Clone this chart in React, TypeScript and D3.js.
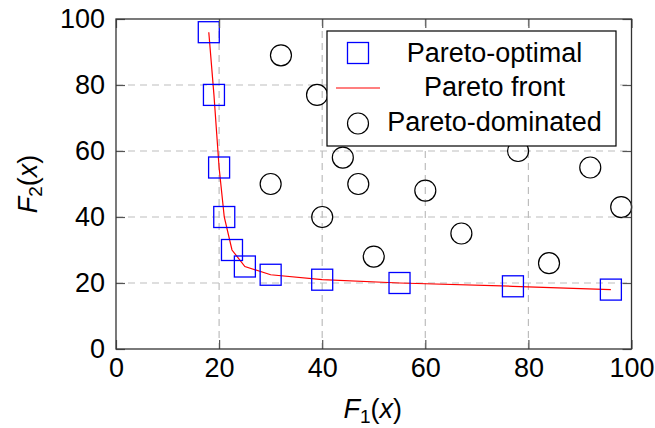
import React, { useEffect, useRef } from 'react'
import { select, scaleLinear, line, axisBottom, axisLeft, axisTop, axisRight } from 'd3'

// Pareto-optimal points (F1, F2)
const optimalF1 = [18, 19, 20, 21, 22.5, 25, 30, 40, 55, 77, 96]
const optimalF2 = [96, 77, 55, 40, 30, 25, 22.5, 21, 20, 19, 18]

// Pareto-dominated points
const dominatedF1 = [32, 39, 44, 30, 47, 40, 60, 50, 67, 78, 84, 92, 98]
const dominatedF2 = [89, 77, 58, 50, 50, 40, 48, 28, 35, 60, 26, 55, 43]

const tickValues = [0, 20, 40, 60, 80, 100]
const legendLabels = ['Pareto-optimal', 'Pareto front', 'Pareto-dominated']

function App() {
  const ref = useRef<SVGSVGElement>(null)

  useEffect(() => {
    const width = 655, height = 428
    const left = 116, right = 631.5, top = 19, bottom = 349
    const font = '"Liberation Sans", Arial, sans-serif'

    const svg = select(ref.current)
    svg.selectAll('*').remove()

    const x = scaleLinear().domain([0, 100]).range([left, right])
    const y = scaleLinear().domain([0, 100]).range([bottom, top])

    // grid
    const grid = svg.append('g')
    grid.selectAll('.gx')
      .data(tickValues.slice(1, -1))
      .enter().append('line')
      .attr('x1', d => x(d)).attr('x2', d => x(d))
      .attr('y1', top).attr('y2', bottom)
    grid.selectAll('.gy')
      .data(tickValues.slice(1, -1))
      .enter().append('line')
      .attr('x1', left).attr('x2', right)
      .attr('y1', d => y(d)).attr('y2', d => y(d))
    grid.selectAll('line')
      .attr('stroke', '#bdbdbd')
      .attr('stroke-width', 1.2)
      .attr('stroke-dasharray', '7,5')

    const optimal = optimalF1.map((f1, i) => ({ f1, f2: optimalF2[i] }))
    const dominated = dominatedF1.map((f1, i) => ({ f1, f2: dominatedF2[i] }))

    // pareto front
    svg.append('path')
      .datum(optimal)
      .attr('fill', 'none')
      .attr('stroke', '#ff0000')
      .attr('stroke-width', 1.2)
      .attr('d', line<{ f1: number, f2: number }>().x(d => x(d.f1)).y(d => y(d.f2)))

    const sq = 21
    svg.append('g').selectAll('rect')
      .data(optimal)
      .enter().append('rect')
      .attr('x', d => x(d.f1) - sq / 2)
      .attr('y', d => y(d.f2) - sq / 2)
      .attr('width', sq).attr('height', sq)
      .attr('fill', 'none')
      .attr('stroke', '#0000ff')
      .attr('stroke-width', 1.3)

    svg.append('g').selectAll('circle')
      .data(dominated)
      .enter().append('circle')
      .attr('cx', d => x(d.f1))
      .attr('cy', d => y(d.f2))
      .attr('r', 10.5)
      .attr('fill', 'none')
      .attr('stroke', '#000')
      .attr('stroke-width', 1.2)

    // axes, ticks inward on all four sides
    const tickLen = 9
    const styleAxis = (g: any, labels: boolean) => {
      g.select('.domain').remove()
      g.selectAll('.tick line').attr('stroke', '#555').attr('stroke-width', 1.2)
      g.selectAll('.tick text')
        .attr('font-family', font)
        .attr('font-size', 27)
        .attr('fill', '#000')
      if (!labels) g.selectAll('.tick text').remove()
    }

    svg.append('g')
      .attr('transform', `translate(0,${bottom})`)
      .call(axisBottom(x).tickValues(tickValues).tickSizeInner(-tickLen).tickSizeOuter(0).tickPadding(9))
      .call((g: any) => styleAxis(g, true))
    svg.append('g')
      .attr('transform', `translate(${left},0)`)
      .call(axisLeft(y).tickValues(tickValues).tickSizeInner(-tickLen).tickSizeOuter(0).tickPadding(11))
      .call((g: any) => styleAxis(g, true))
    svg.append('g')
      .attr('transform', `translate(0,${top})`)
      .call(axisTop(x).tickValues(tickValues).tickSizeInner(-tickLen).tickSizeOuter(0))
      .call((g: any) => styleAxis(g, false))
    svg.append('g')
      .attr('transform', `translate(${right},0)`)
      .call(axisRight(y).tickValues(tickValues).tickSizeInner(-tickLen).tickSizeOuter(0))
      .call((g: any) => styleAxis(g, false))

    svg.append('rect')
      .attr('x', left).attr('y', top)
      .attr('width', right - left).attr('height', bottom - top)
      .attr('fill', 'none')
      .attr('stroke', '#333')
      .attr('stroke-width', 1.3)

    // axis labels
    const xl = svg.append('text')
      .attr('x', (left + right) / 2 - 1)
      .attr('y', 418)
      .attr('text-anchor', 'middle')
      .attr('font-family', font)
      .attr('font-size', 27)
    xl.append('tspan').attr('font-style', 'italic').text('F')
    xl.append('tspan').attr('font-size', 19).attr('dy', 5).text('1')
    xl.append('tspan').attr('dy', -5).text('(')
    xl.append('tspan').attr('font-style', 'italic').text('x')
    xl.append('tspan').text(')')

    const yl = svg.append('text')
      .attr('transform', `translate(37,${(top + bottom) / 2}) rotate(-90)`)
      .attr('text-anchor', 'middle')
      .attr('font-family', font)
      .attr('font-size', 27)
    yl.append('tspan').attr('font-style', 'italic').text('F')
    yl.append('tspan').attr('font-size', 19).attr('dy', 5).text('2')
    yl.append('tspan').attr('dy', -5).text('(')
    yl.append('tspan').attr('font-style', 'italic').text('x')
    yl.append('tspan').text(')')

    // legend
    const lg = svg.append('g')
    lg.append('rect')
      .attr('x', 327).attr('y', 31)
      .attr('width', 289).attr('height', 115)
      .attr('fill', '#fff')
      .attr('stroke', '#000')
      .attr('stroke-width', 1.2)
    lg.append('rect')
      .attr('x', 358 - sq / 2).attr('y', 53 - sq / 2)
      .attr('width', sq).attr('height', sq)
      .attr('fill', 'none').attr('stroke', '#0000ff').attr('stroke-width', 1.3)
    lg.append('line')
      .attr('x1', 336).attr('x2', 380)
      .attr('y1', 88).attr('y2', 88)
      .attr('stroke', '#ff0000').attr('stroke-width', 1.2)
    lg.append('circle')
      .attr('cx', 358).attr('cy', 123.5).attr('r', 10.5)
      .attr('fill', 'none').attr('stroke', '#000').attr('stroke-width', 1.2)
    lg.selectAll('.lt')
      .data(legendLabels)
      .enter().append('text')
      .attr('x', 494.5)
      .attr('y', (d, i) => 61.7 + i * 34.5)
      .attr('text-anchor', 'middle')
      .attr('font-family', font)
      .attr('font-size', 27)
      .text(d => d)

    svg.attr('width', width).attr('height', height)
  }, [])

  return (
    <div style={{ position: 'absolute', left: 0, top: 0 }}>
      <svg ref={ref} width={655} height={428} style={{ display: 'block', background: '#fff' }}></svg>
    </div>
  )
}

export default App
